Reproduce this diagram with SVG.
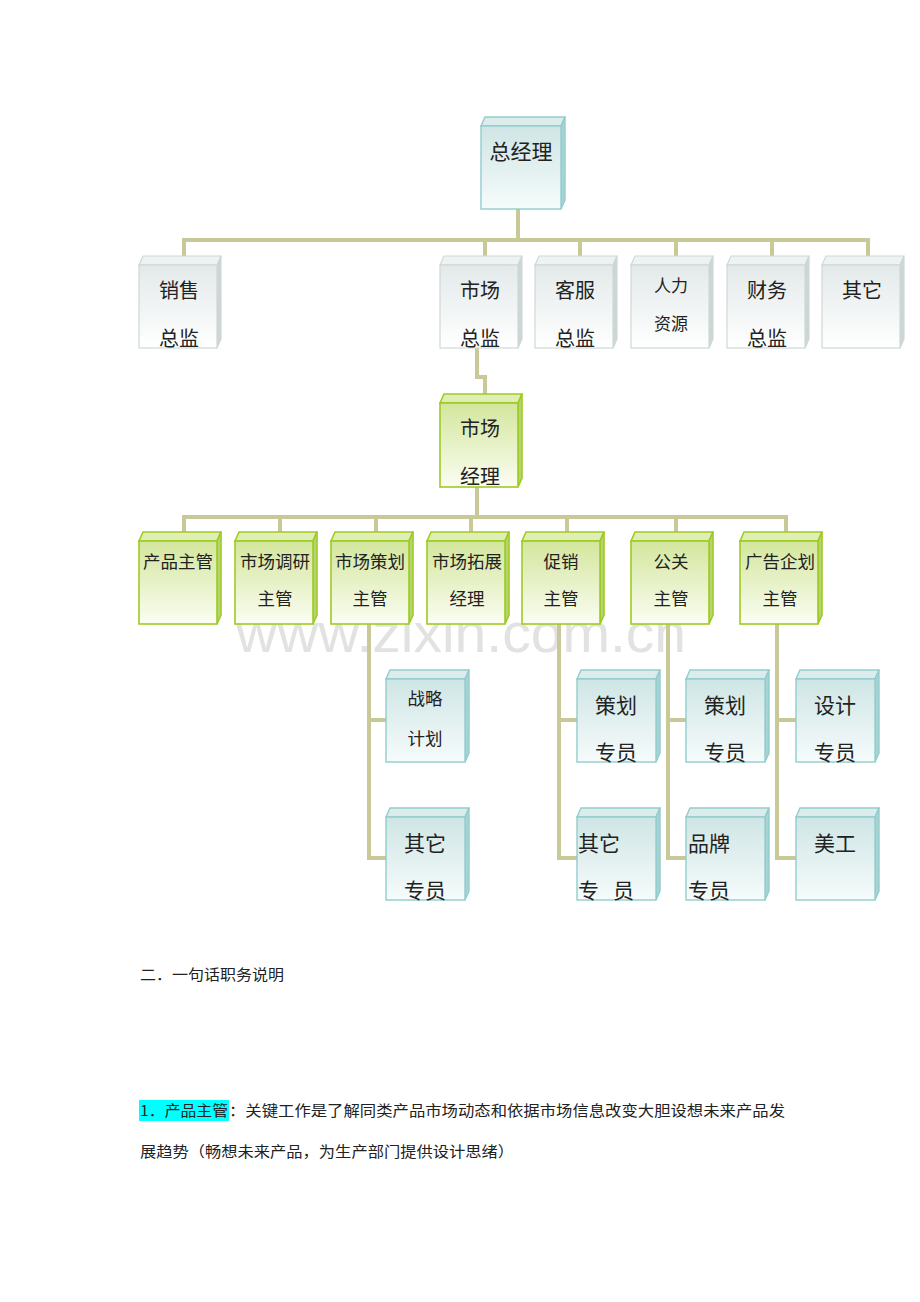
<svg xmlns="http://www.w3.org/2000/svg" width="920" height="1302" viewBox="0 0 920 1302">
<defs>
<linearGradient id="gGray" x1="0" y1="0" x2="0" y2="1"><stop offset="0" stop-color="#e3e9e9"/><stop offset="1" stop-color="#ffffff"/></linearGradient>
<linearGradient id="gTeal" x1="0" y1="0" x2="0" y2="1"><stop offset="0" stop-color="#cfe5e5"/><stop offset="1" stop-color="#f6fbfb"/></linearGradient>
<linearGradient id="gGreen" x1="0" y1="0" x2="0" y2="1"><stop offset="0" stop-color="#d3e69c"/><stop offset="1" stop-color="#fbfdf3"/></linearGradient>
</defs>
<style>
.gray .front{fill:url(#gGray);stroke:#cfd8d8;stroke-width:1.2}
.gray .top{fill:#eef2f2;stroke:#cfd8d8;stroke-width:1.2}
.gray .side{fill:#cdd5d5;stroke:#cfd8d8;stroke-width:1.2}
.teal .front{fill:url(#gTeal);stroke:#92cdcd;stroke-width:1.4}
.teal .top{fill:#dcecec;stroke:#92cdcd;stroke-width:1.4}
.teal .side{fill:#a9d3d3;stroke:#92cdcd;stroke-width:1.4}
.green .front{fill:url(#gGreen);stroke:#9ecb22;stroke-width:1.6}
.green .top{fill:#dfeeb6;stroke:#9ecb22;stroke-width:1.6}
.green .side{fill:#b7d375;stroke:#9ecb22;stroke-width:1.6}
text{font-family:"Noto Sans CJK SC","Liberation Sans",sans-serif;fill:#222}
.c{text-anchor:middle}
.f21{font-size:21px}
.f20{font-size:20px}
.f18{font-size:17.5px}
.f17{font-size:17px}
.conn path{fill:none;stroke:#c9c997;stroke-width:4;stroke-linejoin:miter}
.para{font-size:15px}
</style>

<text x="236" y="652" font-family="Liberation Sans, Arial, sans-serif" font-size="55" style="fill:#e2e2e2;font-family:'Liberation Sans',Arial,sans-serif" textLength="450" lengthAdjust="spacingAndGlyphs">www.zixin.com.cn</text>

<g id="connectors" class="conn">
<path d="M518,209 V240"/>
<path d="M184,256 V240 H868 V256"/>
<path d="M485,240 V256"/>
<path d="M580,240 V256"/>
<path d="M676,240 V256"/>
<path d="M772,240 V256"/>
<path d="M477,348 V377 H485 V394"/>
<path d="M477,487 V517"/>
<path d="M184,532 V517 H786 V532"/>
<path d="M280,517 V532"/>
<path d="M376,517 V532"/>
<path d="M471,517 V532"/>
<path d="M567,517 V532"/>
<path d="M676,517 V532"/>
<path d="M369,624 V858 H386"/>
<path d="M369,720 H386"/>
<path d="M559,624 V858 H577"/>
<path d="M559,720 H577"/>
<path d="M668,624 V858 H686"/>
<path d="M668,720 H686"/>
<path d="M777,624 V858 H796"/>
<path d="M777,720 H796"/>
</g>

<g id="n-zongjingli" class="teal" transform="translate(481,117)">
<polygon class="top" points="0,9 4,0 84,0 80,9"/><polygon class="side" points="80,9 84,0 84,83 80,92"/><rect class="front" x="0" y="9" width="80" height="83"/>
<text class="c f21" x="40" y="42">总经理</text>
</g>

<g id="n-xiaoshou" class="gray" transform="translate(139,256)">
<polygon class="top" points="0,9 4,0 82,0 78,9"/><polygon class="side" points="78,9 82,0 82,83 78,92"/><rect class="front" x="0" y="9" width="78" height="83"/>
<text class="c f20" x="40" y="42">销售</text><text class="c f20" x="40" y="90">总监</text>
</g>
<g id="n-shichangzongjian" class="gray" transform="translate(440,256)">
<polygon class="top" points="0,9 4,0 82,0 78,9"/><polygon class="side" points="78,9 82,0 82,83 78,92"/><rect class="front" x="0" y="9" width="78" height="83"/>
<text class="c f20" x="40" y="42">市场</text><text class="c f20" x="40" y="90">总监</text>
</g>
<g id="n-kefu" class="gray" transform="translate(535,256)">
<polygon class="top" points="0,9 4,0 82,0 78,9"/><polygon class="side" points="78,9 82,0 82,83 78,92"/><rect class="front" x="0" y="9" width="78" height="83"/>
<text class="c f20" x="40" y="42">客服</text><text class="c f20" x="40" y="90">总监</text>
</g>
<g id="n-renli" class="gray" transform="translate(631,256)">
<polygon class="top" points="0,9 4,0 82,0 78,9"/><polygon class="side" points="78,9 82,0 82,83 78,92"/><rect class="front" x="0" y="9" width="78" height="83"/>
<text class="c f17" x="40" y="36">人力</text><text class="c f17" x="40" y="74">资源</text>
</g>
<g id="n-caiwu" class="gray" transform="translate(727,256)">
<polygon class="top" points="0,9 4,0 82,0 78,9"/><polygon class="side" points="78,9 82,0 82,83 78,92"/><rect class="front" x="0" y="9" width="78" height="83"/>
<text class="c f20" x="40" y="42">财务</text><text class="c f20" x="40" y="90">总监</text>
</g>
<g id="n-qita1" class="gray" transform="translate(822,256)">
<polygon class="top" points="0,9 4,0 82,0 78,9"/><polygon class="side" points="78,9 82,0 82,83 78,92"/><rect class="front" x="0" y="9" width="78" height="83"/>
<text class="c f20" x="40" y="42">其它</text>
</g>

<g id="n-shichangjingli" class="green" transform="translate(440,394)">
<polygon class="top" points="0,9 4,0 82,0 78,9"/><polygon class="side" points="78,9 82,0 82,84 78,93"/><rect class="front" x="0" y="9" width="78" height="84"/>
<text class="c f20" x="40" y="42">市场</text><text class="c f20" x="40" y="90">经理</text>
</g>

<g id="n-chanpin" class="green" transform="translate(139,532)">
<polygon class="top" points="0,9 4,0 82,0 78,9"/><polygon class="side" points="78,9 82,0 82,83 78,92"/><rect class="front" x="0" y="9" width="78" height="83"/>
<text class="c f18" x="39" y="36">产品主管</text>
</g>
<g id="n-diaoyan" class="green" transform="translate(235,532)">
<polygon class="top" points="0,9 4,0 82,0 78,9"/><polygon class="side" points="78,9 82,0 82,83 78,92"/><rect class="front" x="0" y="9" width="78" height="83"/>
<text class="c f18" x="40" y="36">市场调研</text><text class="c f18" x="40" y="73">主管</text>
</g>
<g id="n-cehua" class="green" transform="translate(331,532)">
<polygon class="top" points="0,9 4,0 82,0 78,9"/><polygon class="side" points="78,9 82,0 82,83 78,92"/><rect class="front" x="0" y="9" width="78" height="83"/>
<text class="c f18" x="39" y="36">市场策划</text><text class="c f18" x="39" y="73">主管</text>
</g>
<g id="n-tuozhan" class="green" transform="translate(427,532)">
<polygon class="top" points="0,9 4,0 82,0 78,9"/><polygon class="side" points="78,9 82,0 82,83 78,92"/><rect class="front" x="0" y="9" width="78" height="83"/>
<text class="c f18" x="40" y="36">市场拓展</text><text class="c f18" x="40" y="73">经理</text>
</g>
<g id="n-cuxiao" class="green" transform="translate(522,532)">
<polygon class="top" points="0,9 4,0 82,0 78,9"/><polygon class="side" points="78,9 82,0 82,83 78,92"/><rect class="front" x="0" y="9" width="78" height="83"/>
<text class="c f18" x="39" y="36">促销</text><text class="c f18" x="39" y="73">主管</text>
</g>
<g id="n-gongguan" class="green" transform="translate(631,532)">
<polygon class="top" points="0,9 4,0 82,0 78,9"/><polygon class="side" points="78,9 82,0 82,83 78,92"/><rect class="front" x="0" y="9" width="78" height="83"/>
<text class="c f18" x="40" y="36">公关</text><text class="c f18" x="40" y="73">主管</text>
</g>
<g id="n-guanggao" class="green" transform="translate(740,532)">
<polygon class="top" points="0,9 4,0 82,0 78,9"/><polygon class="side" points="78,9 82,0 82,83 78,92"/><rect class="front" x="0" y="9" width="78" height="83"/>
<text class="c f18" x="40" y="36">广告企划</text><text class="c f18" x="40" y="73">主管</text>
</g>

<g id="n-zhanlue" class="teal" transform="translate(386,670)">
<polygon class="top" points="0,9 4,0 83,0 79,9"/><polygon class="side" points="79,9 83,0 83,83 79,92"/><rect class="front" x="0" y="9" width="79" height="83"/>
<text class="c f18" x="39" y="35">战略</text><text class="c f18" x="39" y="75">计划</text>
</g>
<g id="n-qitazhuanyuan1" class="teal" transform="translate(386,808)">
<polygon class="top" points="0,9 4,0 83,0 79,9"/><polygon class="side" points="79,9 83,0 83,83 79,92"/><rect class="front" x="0" y="9" width="79" height="83"/>
<text class="c f21" x="39" y="43">其它</text><text class="c f21" x="39" y="90">专员</text>
</g>
<g id="n-cehuazhuanyuan1" class="teal" transform="translate(577,670)">
<polygon class="top" points="0,9 4,0 83,0 79,9"/><polygon class="side" points="79,9 83,0 83,83 79,92"/><rect class="front" x="0" y="9" width="79" height="83"/>
<text class="c f21" x="39" y="43">策划</text><text class="c f21" x="39" y="90">专员</text>
</g>
<g id="n-qitazhuanyuan2" class="teal" transform="translate(577,808)">
<polygon class="top" points="0,9 4,0 83,0 79,9"/><polygon class="side" points="79,9 83,0 83,83 79,92"/><rect class="front" x="0" y="9" width="79" height="83"/>
<text class="f21" x="1" y="43">其它</text><text class="f21" x="1" y="90">专<tspan dx="14">员</tspan></text>
</g>
<g id="n-cehuazhuanyuan2" class="teal" transform="translate(686,670)">
<polygon class="top" points="0,9 4,0 83,0 79,9"/><polygon class="side" points="79,9 83,0 83,83 79,92"/><rect class="front" x="0" y="9" width="79" height="83"/>
<text class="c f21" x="39" y="43">策划</text><text class="c f21" x="39" y="90">专员</text>
</g>
<g id="n-pinpai" class="teal" transform="translate(686,808)">
<polygon class="top" points="0,9 4,0 83,0 79,9"/><polygon class="side" points="79,9 83,0 83,83 79,92"/><rect class="front" x="0" y="9" width="79" height="83"/>
<text class="f21" x="2" y="43">品牌</text><text class="f21" x="2" y="90">专员</text>
</g>
<g id="n-sheji" class="teal" transform="translate(796,670)">
<polygon class="top" points="0,9 4,0 83,0 79,9"/><polygon class="side" points="79,9 83,0 83,83 79,92"/><rect class="front" x="0" y="9" width="79" height="83"/>
<text class="c f21" x="39" y="43">设计</text><text class="c f21" x="39" y="90">专员</text>
</g>
<g id="n-meigong" class="teal" transform="translate(796,808)">
<polygon class="top" points="0,9 4,0 83,0 79,9"/><polygon class="side" points="79,9 83,0 83,83 79,92"/><rect class="front" x="0" y="9" width="79" height="83"/>
<text class="c f21" x="39" y="43">美工</text>
</g>

<g id="text-body">
<text class="para" x="140" y="980" textLength="144" lengthAdjust="spacingAndGlyphs">二．一句话职务说明</text>
<rect x="139" y="1100" width="90" height="21" fill="#00ffff"/>
<text class="para" x="140" y="1116" textLength="88" lengthAdjust="spacingAndGlyphs">1．产品主管</text>
<text class="para" x="229" y="1116" textLength="556" lengthAdjust="spacingAndGlyphs">：关键工作是了解同类产品市场动态和依据市场信息改变大胆设想未来产品发</text>
<text class="para" x="140" y="1157" textLength="374" lengthAdjust="spacingAndGlyphs">展趋势（畅想未来产品，为生产部门提供设计思绪）</text>
</g>
</svg>
